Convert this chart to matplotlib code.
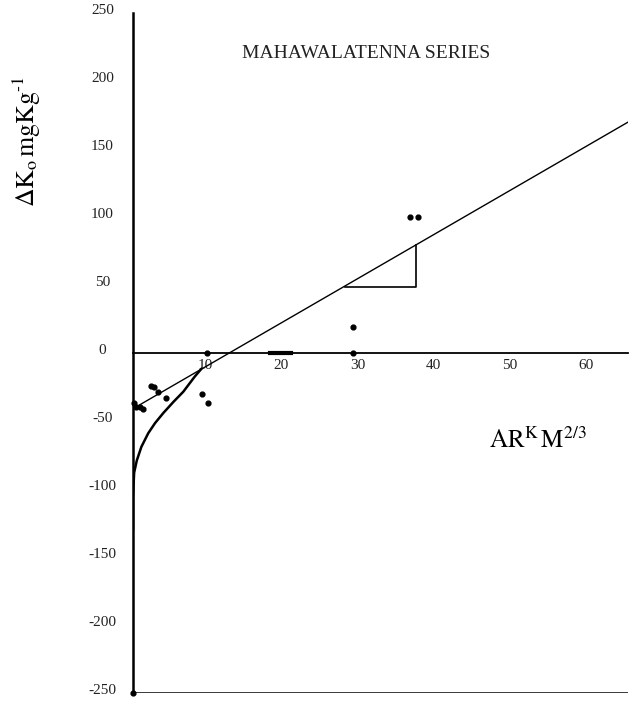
import matplotlib
matplotlib.use("Agg")
import matplotlib.pyplot as plt
import matplotlib.transforms as mtransforms

plt.rcParams['font.family'] = ['Liberation Serif', 'DejaVu Serif']
plt.rcParams['mathtext.fontset'] = 'stix'

# ---- data ----
title = "MAHAWALATENNA SERIES"
x_ticks = [10, 20, 30, 40, 50, 60]
y_ticks = [-250, -200, -150, -100, -50, 0, 50, 100, 150, 200, 250]

pts_x = [2.4, 2.8, 3.3, 4.3, 0.1, 0.4, 0.9, 1.3, 9.0, 9.8, 9.7, 28.9, 28.9, 36.4, 37.4, 0.0]
pts_y = [-24, -25, -29, -33, -37, -40, -40, -41, -30, -37, 0, 19, 0, 100, 100, -250]

line_x = [0.3, 66.0]
line_y = [-40.0, 173.0]

curve_x = [0.0, 0.0, 0.15, 0.5, 1.1, 2.0, 2.9, 4.0, 5.3, 6.6, 8.1, 9.0]
curve_y = [-130, -106, -88, -79, -69, -59, -51.5, -44, -36, -28.5, -17.4, -11.5]

tri_x = [27.9, 37.2, 37.2]
tri_y = [48.5, 48.5, 79.5]

dash_x = [18.0, 20.7]
dash_y = [0, 0]

W, H = 630, 702
fig = plt.figure(figsize=(W / 100, H / 100), dpi=100)
ax = fig.add_axes([133 / W, 9 / H, 495 / W, 680 / H])
ax.set_xlim(0, 65)
ax.set_ylim(-250, 250)

ax.plot(line_x, line_y, color='black', lw=1.0)
ax.plot(curve_x, curve_y, color='black', lw=1.8, solid_capstyle='round',
        solid_joinstyle='round')
ax.plot(tri_x, tri_y, color='black', lw=1.2)
ax.plot(dash_x, dash_y, color='black', lw=3.0)
ax.scatter(pts_x, pts_y, s=12, color='black', zorder=5, clip_on=False)

ax.axhline(-250, color='black', lw=1.8)

for s in ['top', 'right']:
    ax.spines[s].set_visible(False)
ax.spines['bottom'].set_position(('data', 0))
ax.spines['bottom'].set_linewidth(1.3)
ax.spines['left'].set_linewidth(1.8)

ax.set_xticks(x_ticks)
ax.set_xticklabels([str(v) for v in x_ticks])
ax.set_yticks(y_ticks)
ax.set_yticklabels([str(v) for v in y_ticks])
ax.tick_params(axis='x', length=0, pad=4, labelsize=11, labelcolor='#222222')
ax.tick_params(axis='y', length=0, pad=22, labelsize=11, labelcolor='#222222')
offset = mtransforms.ScaledTranslation(0, 4 / 100, fig.dpi_scale_trans)
for lab in ax.get_yticklabels():
    lab.set_horizontalalignment('center')
    lab.set_transform(lab.get_transform() + offset)
xoff = mtransforms.ScaledTranslation(-4 / 100, 0, fig.dpi_scale_trans)
for lab in ax.get_xticklabels():
    lab.set_transform(lab.get_transform() + xoff)

fig.text(366 / W, 1 - 54 / H, title, ha='center', va='center', fontsize=14, color='#222222')
fig.text(27 / W, 1 - 142 / H, r'$\Delta\mathrm{K}_{\mathrm{o}}\,\mathrm{mgKg}^{\text{-1}}$',
         rotation=90, ha='center', va='center', fontsize=18.5)
fig.text(538 / W, 1 - 440 / H, r'$\mathrm{AR}^{\mathrm{K}}\,\mathrm{M}^{2/3}$',
         ha='center', va='center', fontsize=18)

fig.savefig('out.png', dpi=100)
